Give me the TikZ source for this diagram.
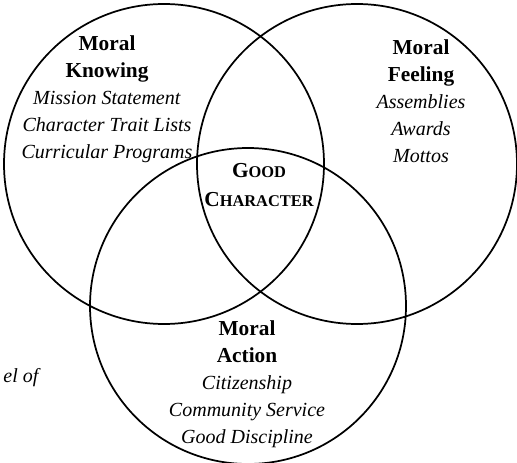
\documentclass[tikz,border=0pt]{standalone}
\usepackage{fontspec}
\setmainfont{Liberation Serif}
\usetikzlibrary{positioning}
\tikzset{
  venn/.style={draw, line width=1.3pt},
  area/.style={align=center, inner sep=0pt, font=\fontsize{15}{20.25}\selectfont},
}
\newcommand{\aspect}[1]{{\fontsize{16}{20.25}\selectfont\bfseries #1}}
\newcommand{\practice}[1]{\textit{#1}}
\newcommand{\smallcap}[2]{#1{\fontsize{12.3}{12}\selectfont #2}}

\begin{document}
\begin{tikzpicture}[x=0.75pt,y=0.75pt]
  \useasboundingbox (0,0) rectangle (517,-463);
  \path
    (164,-164) coordinate (K) circle (160)
    (357,-164) coordinate (F) circle (160)
    (248,-306) coordinate (A) circle (158) [venn];
  \node[area] (knowing) at (107,-99) {\aspect{Moral}\\ \aspect{Knowing}\\
    \practice{Mission Statement}\\ \practice{Character Trait Lists}\\
    \practice{Curricular Programs}};
  \node[area] (feeling) at (421,-101) {\aspect{Moral}\\ \aspect{Feeling}\\
    \practice{Assemblies}\\ \practice{Awards}\\ \practice{Mottos}};
  \node[area] (action) at (247,-384) {\aspect{Moral}\\ \aspect{Action}\\
    \practice{Citizenship}\\ \practice{Community Service}\\
    \practice{Good Discipline}};
  \node[area, font=\fontsize{16}{21.75}\selectfont\bfseries] (good) at (259,-185)
    {\smallcap{G}{OOD}\\ \smallcap{C}{HARACTER}};
  % part of the caption below the figure
  \node[area, anchor=east] (caption) at (41,-378) {\practice{el of}};
\end{tikzpicture}
\end{document}
